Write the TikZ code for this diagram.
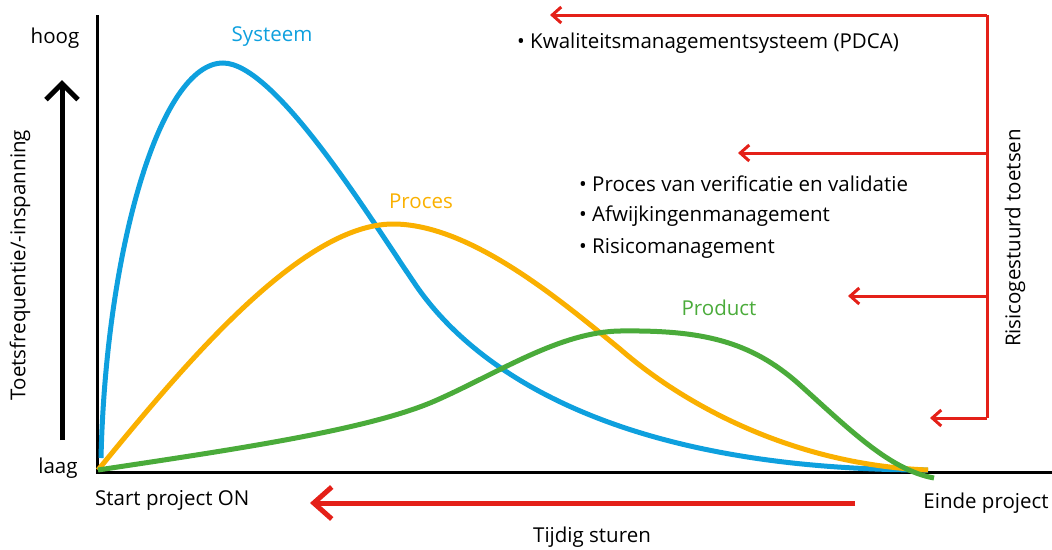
\documentclass[tikz,border=0pt]{standalone}
\usepackage{fontspec}
\setmainfont{Open Sans}
\usepackage{tikz}
\usetikzlibrary{arrows.meta}
\usepackage{xcolor}
\definecolor{sysblue}{RGB}{14,160,222}
\definecolor{procorange}{RGB}{250,176,0}
\definecolor{prodgreen}{RGB}{74,171,58}
\definecolor{stuurred}{RGB}{228,32,24}

\begin{document}
\begin{tikzpicture}[x=1pt,y=-1pt,
  lbl/.style={font=\fontsize{20.5}{24}\selectfont, inner sep=0pt},
  curve/.style={line width=5pt, line cap=butt},
  redarrow/.style={stuurred, line width=3pt, -{Straight Barb[length=9pt,width=16pt]}}]
\useasboundingbox (0,0) rectangle (1052,549);

% assen
\draw[line width=3pt] (97,15) -- (97,472) -- (1052,472);
\draw[line width=5pt, -{Straight Barb[length=16pt,width=32pt]}] (62,440) -- (62,80);

% curves
\draw[curve, sysblue] (101,458) .. controls (106,250) and (160,63) .. (223,63)
  .. controls (275,63) and (370,218) .. (413,281)
  .. controls (465,360) and (600,470) .. (928,470);
\draw[curve, procorange] (98,470) .. controls (180,370) and (300,224) .. (393,224)
  .. controls (470,224) and (560,300) .. (620,349)
  .. controls (690,410) and (800,465) .. (928,470);
\draw[curve, prodgreen] (98,470) .. controls (230,450) and (370,430) .. (437,400)
  .. controls (500,372) and (560,332) .. (620,331)
  .. controls (700,330) and (750,340) .. (800,385)
  .. controls (850,430) and (890,470) .. (934,478);

% labels curves
\node[lbl, sysblue] (sys) at (272,37) {Systeem};
\node[lbl, procorange] (proc) at (421,201) {Proces};
\node[lbl, prodgreen] (prod) at (719,308) {Product};

% as-labels
\node[lbl] (hoog) at (55,38) {hoog};
\node[lbl] (laag) at (58,468) {laag};
\node[lbl, anchor=west] (start) at (95,500) {Start project ON};
\node[lbl] (einde) at (986,503) {Einde project};
\node[lbl] (tijdig) at (592,537) {Tijdig sturen};
\node[lbl, rotate=90] (yas) at (20,265) {Toetsfrequentie/-inspanning};
\node[lbl, rotate=90] (risico) at (1015,238) {Risicogestuurd toetsen};

% bullets
\node[lbl, anchor=west] (kms) at (517,43) {\textbullet\ Kwaliteitsmanagementsysteem (PDCA)};
\node[lbl, anchor=west] (verval) at (579,184) {\textbullet\ Proces van verificatie en validatie};
\node[lbl, anchor=west] (afw) at (579,216) {\textbullet\ Afwijkingenmanagement};
\node[lbl, anchor=west] (risman) at (579,248) {\textbullet\ Risicomanagement};

% rode pijlen
\coordinate (rtop) at (987,15);
\coordinate (rbot) at (987,418);
\draw[stuurred, line width=3pt] (rtop) -- (rbot);
\draw[redarrow] (rtop) -- (550,15);
\draw[redarrow] (987,153) -- (738,153);
\draw[redarrow] (987,296) -- (848,296);
\draw[redarrow] (rbot) -- (930,418);
\draw[stuurred, line width=5pt, -{Straight Barb[length=18pt,width=32pt]}] (855,503) -- (310,503);
\end{tikzpicture}
\end{document}
